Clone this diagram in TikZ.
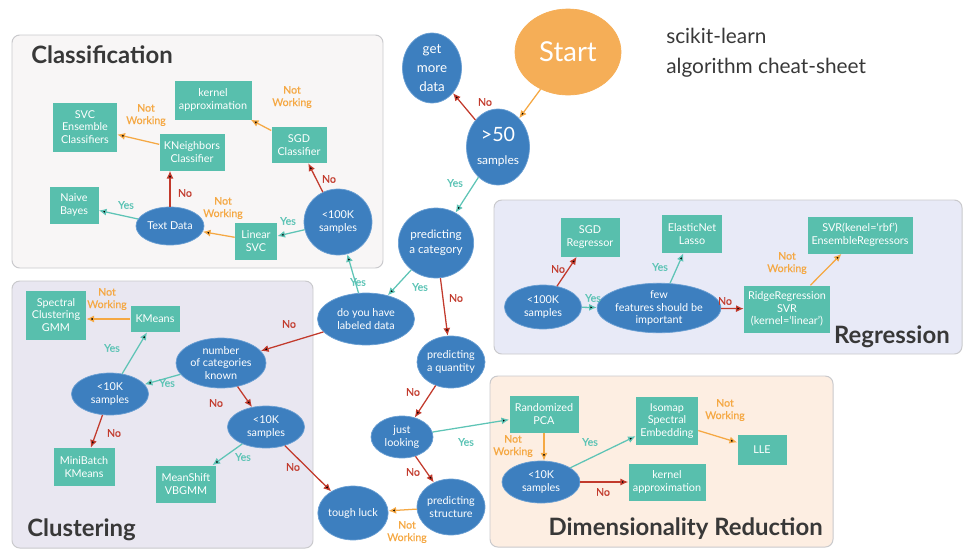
\documentclass[tikz,border=0pt]{standalone}
\usepackage{fontspec}
\setmainfont{Lato}
\newfontfamily\lblfamily{Lato}[FakeBold=0.6]
\usetikzlibrary{shapes.geometric,arrows.meta}

\definecolor{qblue}{HTML}{3D7FBF}
\definecolor{qrim}{HTML}{6A9FD3}
\definecolor{qteal}{HTML}{58BFAD}
\definecolor{qstart}{HTML}{F5AE57}
\definecolor{yesc}{HTML}{5EC4B6}
\definecolor{noc}{HTML}{C23A2C}
\definecolor{nwc}{HTML}{F5A843}
\definecolor{titlec}{HTML}{383838}
\definecolor{panelrim}{HTML}{C9C9CC}

\newcommand{\nodetxt}{\fontsize{7.7}{9}\selectfont}
\newcommand{\lbltxt}{\lblfamily\fontsize{7.5}{8.8}\selectfont}

\tikzset{
  decision/.style 2 args={ellipse, fill=qblue, draw=qrim, line width=0.5pt, text=white,
    inner sep=0pt, align=center, font=\nodetxt,
    minimum width=#1*0.025cm, minimum height=#2*0.025cm},
  algo/.style 2 args={rectangle, fill=qteal, text=white, inner sep=0pt, align=center,
    font=\nodetxt, minimum width=#1*0.025cm, minimum height=#2*0.025cm},
  yesarrow/.style={draw=yesc, line width=0.9pt, -{Latex[length=5.5pt,width=5pt]}},
  noarrow/.style={draw=noc, line width=0.9pt, -{Latex[length=5.5pt,width=5pt]}},
  nwarrow/.style={draw=nwc, line width=0.9pt, -{Latex[length=5.5pt,width=5pt]}},
  yeslbl/.style={text=yesc, font=\lbltxt, inner sep=0pt},
  nolbl/.style={text=noc, font=\lbltxt, inner sep=0pt},
  nwlbl/.style={text=nwc, font=\lbltxt, inner sep=0pt, align=center},
  panel/.style={draw=panelrim, line width=0.7pt, rounded corners=5.5pt},
  paneltitle/.style={text=titlec, font=\fontsize{17}{20}\selectfont\bfseries, inner sep=0pt},
}

\begin{document}
\begin{tikzpicture}[x=0.025cm, y=-0.025cm]
  \useasboundingbox (0,0) rectangle (979,559);

  % panels
  \draw[panel, fill={rgb,255:red,248;green,246;blue,246}] (12,35) rectangle (383,268);
  \draw[panel, fill={rgb,255:red,233;green,231;blue,241}] (12,281) rectangle (313,548);
  \draw[panel, fill={rgb,255:red,232;green,234;blue,247}] (494,200) rectangle (962,354);
  \draw[panel, fill={rgb,255:red,253;green,238;blue,226}] (490,376) rectangle (833,547);

  \node[paneltitle, anchor=base west] (clstitle) at (31,63) {Classification};
  \node[paneltitle, anchor=base west] (clutitle) at (27,536) {Clustering};
  \node[paneltitle, anchor=base east] (rgtitle) at (950,343) {Regression};
  \node[paneltitle, anchor=base east] (drtitle) at (823,535) {Dimensionality Reduction};

  % start
  \node[decision={106}{86}, fill=qstart, draw=qstart, font=\fontsize{19.5}{22}\selectfont] (start) at (568,52) {Start};
  \node[anchor=west, text=titlec, align=left, inner sep=0pt, font=\fontsize{14.8}{21}\selectfont] (sktitle) at (666,53) {scikit-learn\\algorithm cheat-sheet};

  % questions
  \node[decision={59}{70}, font=\fontsize{9.5}{13.5}\selectfont] (moredata) at (432,68) {get\\more\\data};
  \node[decision={63}{76}, font=\fontsize{8.5}{10.5}\selectfont] (fifty) at (498,147) {{\fontsize{14}{14}\selectfont >50}\\[6pt]samples};
  \node[decision={64}{70}, font=\fontsize{8.3}{10.5}\selectfont] (category) at (436,243) {predicting\\a category};
  \node[decision={97}{52}] (labeled) at (366,319) {do you have\\labeled data};
  \node[decision={68}{66}] (clsamples) at (338,222) {<100K\\samples};
  \node[decision={68}{38}] (textdata) at (170,226) {Text Data};
  \node[decision={68}{52}] (quantity) at (451,362) {predicting\\a quantity};
  \node[decision={62}{42}] (looking) at (402,437) {just\\looking};
  \node[decision={68}{56}] (structure) at (451,507) {predicting\\structure};
  \node[decision={69}{54}] (toughluck) at (353,513) {tough luck};
  \node[decision={90}{50}] (numcat) at (221,363) {number\\of categories\\known};
  \node[decision={77}{42}] (cltenk) at (110,394) {<10K\\samples};
  \node[decision={77}{42}] (cltenkb) at (266,427) {<10K\\samples};
  \node[decision={77}{44}] (rgsamples) at (543,307) {<100K\\samples};
  \node[decision={103}{48}] (features) at (659,308) {few\\features should be\\important};
  \node[decision={78}{42}] (drsamples) at (541,482) {<10K\\samples};

  % estimators
  \node[algo={77}{39}] (kernelc) at (213,100) {kernel\\approximation};
  \node[algo={64}{49}] (svcens) at (85,127) {SVC\\Ensemble\\Classifiers};
  \node[algo={65}{37}] (kneigh) at (192,152) {KNeighbors\\Classifier};
  \node[algo={55}{36}] (sgdc) at (299,145) {SGD\\Classifier};
  \node[algo={49}{37}] (naive) at (74,205) {Naive\\Bayes};
  \node[algo={42}{37}] (linsvc) at (256,241) {Linear\\SVC};
  \node[algo={60}{49}] (spectral) at (56,315) {Spectral\\Clustering\\GMM};
  \node[algo={49}{26}] (kmeans) at (155,319) {KMeans};
  \node[algo={61}{38}] (minibatch) at (84,467) {MiniBatch\\KMeans};
  \node[algo={60}{37}] (meanshift) at (186,484) {MeanShift\\VBGMM};
  \node[algo={59}{39}] (sgdr) at (590,237) {SGD\\Regressor};
  \node[algo={60}{38}] (elastic) at (692,234) {ElasticNet\\Lasso};
  \node[algo={105}{37}] (svrrbf) at (860,235) {SVR(kenel=‘rbf’)\\EnsembleRegressors};
  \node[algo={86}{47}] (ridge) at (787,309) {RidgeRegression\\SVR\\(kernel=‘linear’)};
  \node[algo={69}{37}] (rpca) at (544,414) {Randomized\\PCA};
  \node[algo={62}{48}] (isomap) at (667,421) {Isomap\\Spectral\\Embedding};
  \node[algo={49}{30}] (lle) at (762,450) {LLE};
  \node[algo={77}{37}] (kernelr) at (667,482) {kernel\\approximation};

  % yes
  \draw[yesarrow] (fifty) edge (category);
  \draw[yesarrow] (category) edge (labeled);
  \draw[yesarrow] (labeled) edge (clsamples);
  \draw[yesarrow] (clsamples) edge (linsvc);
  \draw[yesarrow] (textdata) edge (naive);
  \draw[yesarrow] (numcat) edge (cltenk);
  \draw[yesarrow] (cltenk) edge (kmeans);
  \draw[yesarrow] (cltenkb) edge (meanshift);
  \draw[yesarrow] (looking) edge (rpca);
  \draw[yesarrow] (drsamples) edge (isomap);
  \draw[yesarrow] (rgsamples) edge (features);
  \draw[yesarrow] (features) edge (elastic);

  % no
  \draw[noarrow] (fifty) edge (moredata);
  \draw[noarrow] (category) edge (quantity);
  \draw[noarrow] (clsamples) edge (sgdc);
  \draw[noarrow] (textdata) edge (textdata |- kneigh.south);
  \draw[noarrow] (labeled) edge (numcat);
  \draw[noarrow] (numcat) edge (cltenkb);
  \draw[noarrow] (cltenk) edge (minibatch);
  \draw[noarrow] (cltenkb) edge (toughluck);
  \draw[noarrow] (quantity) edge (looking);
  \draw[noarrow] (looking) edge (structure);
  \draw[noarrow] (drsamples) edge (kernelr);
  \draw[noarrow] (rgsamples) edge (sgdr);
  \draw[noarrow] (features) edge (ridge);

  % not working
  \draw[nwarrow] (start) edge (fifty);
  \draw[nwarrow] (sgdc) edge (kernelc);
  \draw[nwarrow] (linsvc) edge (textdata);
  \draw[nwarrow] (kneigh) edge (svcens);
  \draw[nwarrow] (kmeans) edge (kmeans -| spectral.east);
  \draw[nwarrow] (structure) edge (toughluck);
  \draw[nwarrow] (rpca) edge (rpca |- drsamples.north);
  \draw[nwarrow] (isomap) edge (lle);
  \draw[nwarrow] (ridge) edge (svrrbf);

  % labels
  \node[yeslbl] (y1) at (455,183) {Yes};
  \node[yeslbl] (y2) at (420,287) {Yes};
  \node[yeslbl] (y3) at (358,282) {Yes};
  \node[yeslbl] (y4) at (288,221) {Yes};
  \node[yeslbl] (y5) at (126,205) {Yes};
  \node[yeslbl] (y6) at (167,383) {Yes};
  \node[yeslbl] (y7) at (112,348) {Yes};
  \node[yeslbl] (y8) at (243,457) {Yes};
  \node[yeslbl] (y9) at (466,442) {Yes};
  \node[yeslbl] (y10) at (590,442) {Yes};
  \node[yeslbl] (y11) at (593,298) {Yes};
  \node[yeslbl] (y12) at (660,267) {Yes};

  \node[nolbl] (n1) at (485,102) {No};
  \node[nolbl] (n2) at (456,298) {No};
  \node[nolbl] (n3) at (329,179) {No};
  \node[nolbl] (n4) at (185,193) {No};
  \node[nolbl] (n5) at (289,324) {No};
  \node[nolbl] (n6) at (216,403) {No};
  \node[nolbl] (n7) at (114,433) {No};
  \node[nolbl] (n8) at (293,467) {No};
  \node[nolbl] (n9) at (413,392) {No};
  \node[nolbl] (n10) at (413,472) {No};
  \node[nolbl] (n11) at (603,492) {No};
  \node[nolbl] (n12) at (558,269) {No};
  \node[nolbl] (n13) at (725,301) {No};

  \node[nwlbl] (w1) at (292,97) {Not\\Working};
  \node[nwlbl] (w2) at (223,208) {Not\\Working};
  \node[nwlbl] (w3) at (146,115) {Not\\Working};
  \node[nwlbl] (w4) at (107,299) {Not\\Working};
  \node[nwlbl] (w5) at (407,532) {Not\\Working};
  \node[nwlbl] (w6) at (513,446) {Not\\Working};
  \node[nwlbl] (w7) at (725,410) {Not\\Working};
  \node[nwlbl] (w8) at (787,263) {Not\\Working};
\end{tikzpicture}
\end{document}
